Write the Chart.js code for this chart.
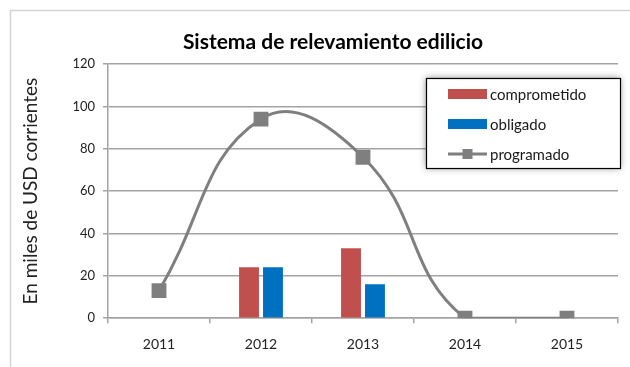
<!DOCTYPE html>
<html>
<head>
<meta charset="utf-8">
<script src="https://cdn.jsdelivr.net/npm/chart.js@4/dist/chart.umd.min.js"></script>
<style>
  html, body { margin: 0; padding: 0; background: #ffffff; }
  #wrap { width: 630px; height: 367px; position: relative; }
</style>
</head>
<body>
<div id="wrap"><canvas id="chart" width="630" height="367"></canvas></div>
<script>
// Years on the category axis
const categories = ['2011', '2012', '2013', '2014', '2015'];
// Amounts in thousands of USD
const comprometido = [null, 24, 33, null, null];
const obligado = [null, 24, 16, null, null];
const programado = [13, 94, 76, 0, 0];
// Value axis
const yTicks = [0, 20, 40, 60, 80, 100, 120];
const chartTitle = 'Sistema de relevamiento edilicio';

const FONT = 'Lato, "Liberation Sans", sans-serif';
const GRID = '#a3a3a3';

// Outer frame of the chart object and the heading
const framePlugin = {
  id: 'frame',
  beforeDraw(chart) {
    const ctx = chart.ctx;
    ctx.save();
    ctx.fillStyle = '#ffffff';
    ctx.fillRect(0, 0, chart.width, chart.height);
    ctx.strokeStyle = '#d4d4d4';
    ctx.lineWidth = 1.5;
    ctx.strokeRect(10.5, 10.5, chart.width + 20, chart.height + 20);
    ctx.fillStyle = '#000000';
    ctx.font = 'bold 21px ' + FONT;
    ctx.textAlign = 'center';
    ctx.textBaseline = 'middle';
    ctx.fillText(chartTitle, 333, 42);
    ctx.restore();
  }
};

// Boxed legend drawn inside the plot area, top right
const boxLegend = {
  id: 'boxLegend',
  afterDraw(chart) {
    const ctx = chart.ctx;
    const x = 426, y = 78, w = 194, h = 90;
    ctx.save();
    ctx.shadowColor = 'rgba(0,0,0,0.45)';
    ctx.shadowBlur = 7;
    ctx.fillStyle = '#ffffff';
    ctx.fillRect(x, y, w, h);
    ctx.shadowColor = 'transparent';
    ctx.shadowBlur = 0;
    ctx.strokeStyle = '#000000';
    ctx.lineWidth = 1.2;
    ctx.strokeRect(x + 0.5, y + 0.5, w, h);
    ctx.font = '15px ' + FONT;
    ctx.textBaseline = 'middle';
    ctx.textAlign = 'left';
    chart.data.datasets.forEach((ds, i) => {
      const cy = y + 16 + i * 30;
      const sx = 448, sw = 39;
      if (ds.type === 'line') {
        ctx.strokeStyle = ds.borderColor;
        ctx.lineWidth = 3;
        ctx.beginPath();
        ctx.moveTo(sx, cy);
        ctx.lineTo(sx + sw, cy);
        ctx.stroke();
        ctx.fillStyle = ds.pointBackgroundColor;
        ctx.fillRect(sx + sw / 2 - 5, cy - 5, 10, 10);
      } else {
        ctx.fillStyle = ds.backgroundColor;
        ctx.fillRect(sx, cy - 5, sw, 10);
      }
      ctx.fillStyle = '#1a1a1a';
      ctx.fillText(ds.label, 490, cy + 1);
    });
    ctx.restore();
  }
};

new Chart(document.getElementById('chart'), {
  type: 'bar',
  data: {
    labels: categories,
    datasets: [
      {
        label: 'comprometido',
        data: comprometido,
        backgroundColor: '#c0504d',
        categoryPercentage: 0.47,
        barPercentage: 0.83,
        order: 1
      },
      {
        label: 'obligado',
        data: obligado,
        backgroundColor: '#0070c0',
        categoryPercentage: 0.47,
        barPercentage: 0.83,
        order: 1
      },
      {
        type: 'line',
        label: 'programado',
        data: programado,
        borderColor: '#7f7f7f',
        borderWidth: 3,
        tension: 0.45,
        pointStyle: 'rect',
        pointRadius: 10.5,
        pointBackgroundColor: '#7f7f7f',
        pointBorderColor: '#7f7f7f',
        pointBorderWidth: 0,
        order: 0
      }
    ]
  },
  options: {
    responsive: false,
    animation: false,
    devicePixelRatio: 1,
    layout: { padding: { left: 10, right: 12, top: 64, bottom: 1 } },
    plugins: {
      legend: { display: false },
      tooltip: { enabled: false },
      title: { display: false }
    },
    scales: {
      x: {
        offset: true,
        grid: {
          display: true,
          offset: true,
          drawOnChartArea: false,
          drawTicks: true,
          tickLength: 5,
          color: GRID,
          lineWidth: 1.5
        },
        border: { display: true, color: GRID, width: 1.5 },
        ticks: {
          color: '#222222',
          font: { family: FONT, size: 14 },
          padding: 13,
          maxRotation: 0
        }
      },
      y: {
        min: 0,
        max: 120,
        afterFit(scale) { scale.width = 98; },
        afterBuildTicks(scale) { scale.ticks = yTicks.map(v => ({ value: v })); },
        grid: {
          color: GRID,
          lineWidth: 1.5,
          tickLength: 5
        },
        border: { display: true, color: GRID, width: 1.5 },
        ticks: {
          color: '#222222',
          font: { family: FONT, size: 13 },
          padding: 8
        },
        title: {
          display: true,
          text: 'En miles de USD corrientes',
          color: '#222222',
          font: { family: FONT, size: 19 },
          padding: { top: 9, bottom: 0 }
        }
      }
    }
  },
  plugins: [framePlugin, boxLegend]
});
</script>
</body>
</html>
